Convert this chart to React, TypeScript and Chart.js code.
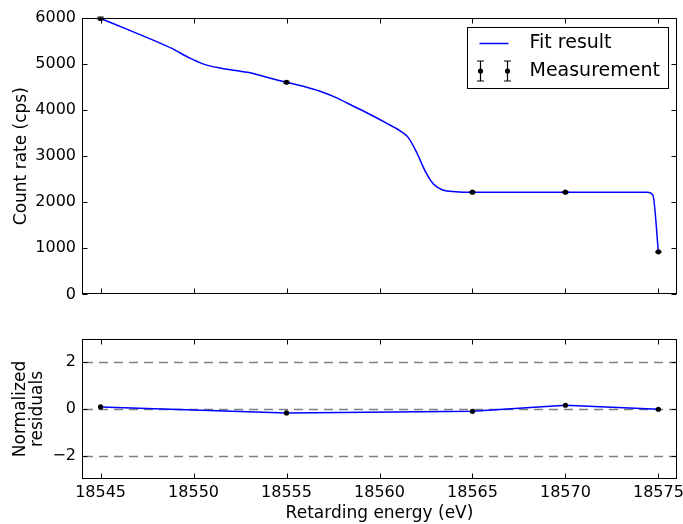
import React, { useEffect, useRef } from 'react';
import { Chart, registerables } from 'chart.js';

Chart.register(...registerables);
Chart.defaults.font.family = "'DejaVu Sans', sans-serif";
Chart.defaults.color = '#000';

// ---- data ----
const xTicks = [18545, 18550, 18555, 18560, 18565, 18570, 18575];
const countTicks = [0, 1000, 2000, 3000, 4000, 5000, 6000];
const residTicks = [-2, 0, 2];
const refLines = [-2, 0, 2];

const measX = [18545, 18555, 18565, 18570, 18575];
const measY = [5990, 4605, 2218, 2218, 925];
const measErr = [28, 22, 16, 16, 12];

const fitX = [
  18545, 18546.6, 18548.2, 18548.8, 18549.8, 18550.5, 18551.4, 18552.9, 18554.6,
  18555, 18555.9, 18556.8, 18557.7, 18558.6, 18559.5, 18560.4, 18561.2, 18561.55,
  18562, 18562.45, 18562.9, 18563.4, 18564.1, 18565, 18570, 18574.4, 18574.7, 18575,
];
const fitY = [
  5990, 5725, 5455, 5345, 5130, 5005, 4915, 4820, 4645,
  4605, 4517, 4409, 4266, 4085, 3906, 3712, 3524, 3403,
  3080, 2683, 2395, 2266, 2229, 2218, 2218, 2218, 2160, 925,
];

const residX = [18545, 18555, 18565, 18570, 18575];
const residY = [0.09, -0.17, -0.1, 0.16, -0.01];

const fmt = (v: number) => (v < 0 ? '\u2212' + Math.abs(v) : String(v));

const framePlugin = {
  id: 'frame',
  afterDraw(chart: any) {
    const { ctx, chartArea: a, scales } = chart;
    ctx.save();
    ctx.strokeStyle = '#000';
    ctx.lineWidth = 1;
    const L = Math.round(a.left) + 0.5;
    const R = Math.round(a.right) - 0.5;
    const T = Math.round(a.top) + 0.5;
    const B = Math.round(a.bottom) - 0.5;
    ctx.strokeRect(L, T, R - L, B - T);
    const tl = 5;
    ctx.beginPath();
    scales.x.ticks.forEach((t: any) => {
      const px = Math.round(scales.x.getPixelForValue(t.value)) + 0.5;
      ctx.moveTo(px, T);
      ctx.lineTo(px, T + tl);
      ctx.moveTo(px, B);
      ctx.lineTo(px, B - tl);
    });
    scales.y.ticks.forEach((t: any) => {
      const py = Math.round(scales.y.getPixelForValue(t.value)) + 0.5;
      ctx.moveTo(L, py);
      ctx.lineTo(L + tl, py);
      ctx.moveTo(R, py);
      ctx.lineTo(R - tl, py);
    });
    ctx.stroke();
    ctx.restore();
  },
};

const errorBarPlugin = {
  id: 'errbars',
  afterDatasetsDraw(chart: any) {
    const { ctx, scales } = chart;
    ctx.save();
    ctx.strokeStyle = '#000';
    ctx.lineWidth = 1.2;
    ctx.beginPath();
    measX.forEach((x, i) => {
      const px = scales.x.getPixelForValue(x);
      const y1 = scales.y.getPixelForValue(measY[i] - measErr[i]);
      const y2 = scales.y.getPixelForValue(measY[i] + measErr[i]);
      ctx.moveTo(px, y1);
      ctx.lineTo(px, y2);
      ctx.moveTo(px - 3, y1);
      ctx.lineTo(px + 3, y1);
      ctx.moveTo(px - 3, y2);
      ctx.lineTo(px + 3, y2);
    });
    ctx.stroke();
    ctx.restore();
  },
};

const legendPlugin = {
  id: 'customLegend',
  afterDraw(chart: any) {
    const { ctx, chartArea: a } = chart;
    const bx = Math.round(a.right) - 210 + 0.5;
    const by = Math.round(a.top) + 9 + 0.5;
    const bw = 201;
    const bh = 61;
    ctx.save();
    ctx.fillStyle = '#fff';
    ctx.fillRect(bx, by, bw, bh);
    ctx.strokeStyle = '#000';
    ctx.lineWidth = 1;
    ctx.strokeRect(bx, by, bw, bh);
    // Fit result
    const r1 = by + 16;
    ctx.strokeStyle = '#0000ff';
    ctx.lineWidth = 1.5;
    ctx.beginPath();
    ctx.moveTo(bx + 12, r1);
    ctx.lineTo(bx + 41, r1);
    ctx.stroke();
    // Measurement
    const r2 = by + 43.5;
    ctx.strokeStyle = '#000';
    ctx.fillStyle = '#000';
    ctx.lineWidth = 1.2;
    [bx + 13, bx + 40].forEach((mx) => {
      ctx.beginPath();
      ctx.moveTo(mx, r2 - 10);
      ctx.lineTo(mx, r2 + 10);
      ctx.moveTo(mx - 3.5, r2 - 10);
      ctx.lineTo(mx + 3.5, r2 - 10);
      ctx.moveTo(mx - 3.5, r2 + 10);
      ctx.lineTo(mx + 3.5, r2 + 10);
      ctx.stroke();
      ctx.beginPath();
      ctx.arc(mx, r2, 2.6, 0, Math.PI * 2);
      ctx.fill();
    });
    ctx.fillStyle = '#000';
    ctx.font = "19px 'DejaVu Sans', sans-serif";
    ctx.textBaseline = 'middle';
    ctx.textAlign = 'left';
    ctx.fillText('Fit result', bx + 62, r1);
    ctx.fillText('Measurement', bx + 62, r2);
    ctx.restore();
  },
};

const refLinePlugin = {
  id: 'refLines',
  beforeDatasetsDraw(chart: any) {
    const { ctx, chartArea: a, scales } = chart;
    ctx.save();
    ctx.strokeStyle = '#808080';
    ctx.lineWidth = 1.5;
    ctx.setLineDash([9, 6]);
    refLines.forEach((v) => {
      const py = Math.round(scales.y.getPixelForValue(v)) + 0.5;
      ctx.beginPath();
      ctx.moveTo(a.left + 2, py);
      ctx.lineTo(a.right, py);
      ctx.stroke();
    });
    ctx.restore();
  },
};

export default function App() {
  const topRef = useRef<HTMLCanvasElement>(null);
  const botRef = useRef<HTMLCanvasElement>(null);

  useEffect(() => {
    const top = new Chart(topRef.current as HTMLCanvasElement, {
      type: 'scatter',
      data: {
        datasets: [
          {
            label: 'Measurement',
            data: measX.map((x, i) => ({ x, y: measY[i] })),
            showLine: false,
            pointRadius: 2.6,
            pointBackgroundColor: '#000',
            pointBorderColor: '#000',
            pointBorderWidth: 0,
            order: 0,
          },
          {
            label: 'Fit result',
            data: fitX.map((x, i) => ({ x, y: fitY[i] })),
            showLine: true,
            borderColor: '#0000ff',
            borderWidth: 1.5,
            pointRadius: 0,
            cubicInterpolationMode: 'monotone',
            order: 1,
          } as any,
        ],
      },
      options: {
        responsive: false,
        animation: false,
        events: [],
        layout: { padding: { top: 18, right: 6, bottom: 13, left: 0 } },
        plugins: { legend: { display: false }, tooltip: { enabled: false } },
        scales: {
          x: {
            type: 'linear',
            min: 18544,
            max: 18576,
            grid: { display: false, drawTicks: false },
            border: { display: false },
            ticks: { display: false },
            afterBuildTicks: (s: any) => {
              s.ticks = xTicks.map((v) => ({ value: v }));
            },
            afterFit: (s: any) => {
              s.height = 0;
            },
          },
          y: {
            type: 'linear',
            min: 0,
            max: 6000,
            grid: { display: false, drawTicks: false },
            border: { display: false },
            ticks: { color: '#000', font: { size: 16 }, padding: 6, callback: (v: any) => fmt(Number(v)) },
            afterBuildTicks: (s: any) => {
              s.ticks = countTicks.map((v) => ({ value: v }));
            },
            afterFit: (s: any) => {
              s.width = 82;
            },
            title: {
              display: true,
              text: 'Count rate (cps)',
              color: '#000',
              font: { size: 17 },
              padding: { top: 11, bottom: 0 },
            },
          },
        },
      },
      plugins: [errorBarPlugin, framePlugin, legendPlugin],
    });

    const bot = new Chart(botRef.current as HTMLCanvasElement, {
      type: 'scatter',
      data: {
        datasets: [
          {
            label: 'Residual points',
            data: residX.map((x, i) => ({ x, y: residY[i] })),
            showLine: false,
            pointRadius: 2.6,
            pointBackgroundColor: '#000',
            pointBorderColor: '#000',
            pointBorderWidth: 0,
            order: 0,
          },
          {
            label: 'Residual line',
            data: residX.map((x, i) => ({ x, y: residY[i] })),
            showLine: true,
            borderColor: '#0000ff',
            borderWidth: 1.5,
            pointRadius: 0,
            order: 1,
          },
        ],
      },
      options: {
        responsive: false,
        animation: false,
        events: [],
        layout: { padding: { top: 29, right: 43, bottom: 0, left: 0 } },
        plugins: { legend: { display: false }, tooltip: { enabled: false } },
        scales: {
          x: {
            type: 'linear',
            min: 18544,
            max: 18576,
            grid: { display: false, drawTicks: false },
            border: { display: false },
            ticks: { color: '#000', font: { size: 16 }, padding: 4, maxRotation: 0, callback: (v: any) => fmt(Number(v)) },
            afterBuildTicks: (s: any) => {
              s.ticks = xTicks.map((v) => ({ value: v }));
            },
            afterFit: (s: any) => {
              s.height = 45;
            },
            title: {
              display: true,
              text: 'Retarding energy (eV)',
              color: '#000',
              font: { size: 17 },
              padding: { top: 0, bottom: 0 },
            },
          },
          y: {
            type: 'linear',
            min: -3,
            max: 3,
            grid: { display: false, drawTicks: false },
            border: { display: false },
            ticks: { color: '#000', font: { size: 16 }, padding: 6, callback: (v: any) => fmt(Number(v)) },
            afterBuildTicks: (s: any) => {
              s.ticks = residTicks.map((v) => ({ value: v }));
            },
            afterFit: (s: any) => {
              s.width = 82;
            },
            title: {
              display: true,
              text: ['Normalized', 'residuals'],
              color: '#000',
              font: { size: 17, lineHeight: 1.0 },
              padding: { top: 12.5, bottom: 0 },
            },
          },
        },
      },
      plugins: [refLinePlugin, framePlugin],
    });

    return () => {
      top.destroy();
      bot.destroy();
    };
  }, []);

  return (
    <div
      style={{
        position: 'absolute',
        left: 0,
        top: 0,
        width: 683,
        height: 524,
        overflow: 'hidden',
        background: '#fff',
      }}
    >
      <canvas ref={topRef} width={683} height={310} style={{ position: 'absolute', left: 0, top: 0 }} />
      <canvas ref={botRef} width={720} height={214} style={{ position: 'absolute', left: 0, top: 310 }} />
    </div>
  );
}
